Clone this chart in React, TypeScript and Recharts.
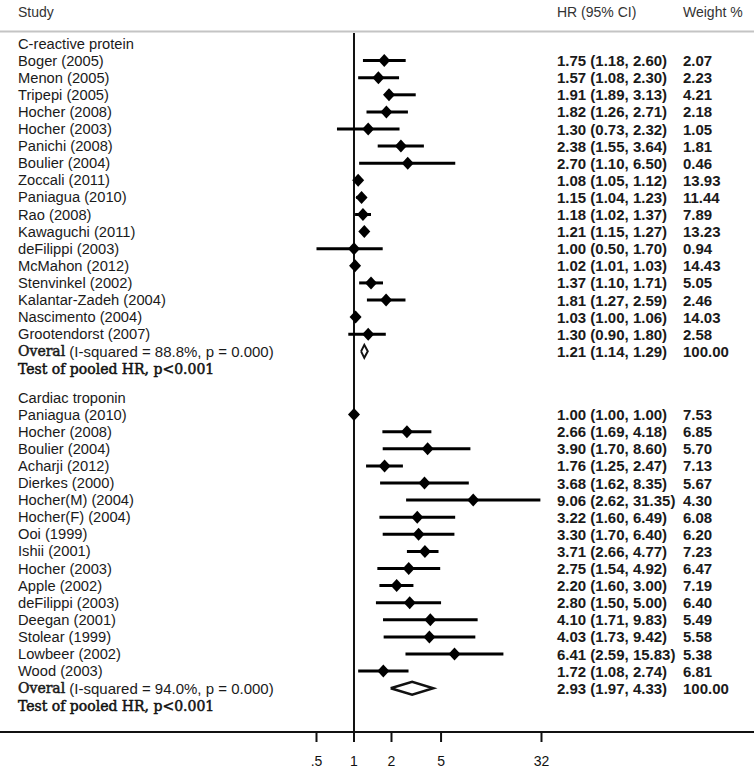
import { ScatterChart, Scatter, XAxis, YAxis, ErrorBar, ReferenceLine } from 'recharts';

document.body.style.margin = '0';

// C-reactive protein
const crpStudies = [
  'Boger (2005)', 'Menon (2005)', 'Tripepi (2005)', 'Hocher (2008)', 'Hocher (2003)',
  'Panichi (2008)', 'Boulier (2004)', 'Zoccali (2011)', 'Paniagua (2010)', 'Rao (2008)',
  'Kawaguchi (2011)', 'deFilippi (2003)', 'McMahon (2012)', 'Stenvinkel (2002)',
  'Kalantar-Zadeh (2004)', 'Nascimento (2004)', 'Grootendorst (2007)',
];
const crpHr = [1.75, 1.57, 1.91, 1.82, 1.3, 2.38, 2.7, 1.08, 1.15, 1.18, 1.21, 1.0, 1.02, 1.37, 1.81, 1.03, 1.3];
const crpLow = [1.18, 1.08, 1.89, 1.26, 0.73, 1.55, 1.1, 1.05, 1.04, 1.02, 1.15, 0.5, 1.01, 1.1, 1.27, 1.0, 0.9];
const crpHigh = [2.6, 2.3, 3.13, 2.71, 2.32, 3.64, 6.5, 1.12, 1.23, 1.37, 1.27, 1.7, 1.03, 1.71, 2.59, 1.06, 1.8];
const crpWeight = [2.07, 2.23, 4.21, 2.18, 1.05, 1.81, 0.46, 13.93, 11.44, 7.89, 13.23, 0.94, 14.43, 5.05, 2.46, 14.03, 2.58];
const crpPooled = [1.21, 1.14, 1.29];
const crpStat = '(I-squared = 88.8%, p = 0.000)';

// Cardiac troponin
const ctnStudies = [
  'Paniagua (2010)', 'Hocher (2008)', 'Boulier (2004)', 'Acharji (2012)', 'Dierkes (2000)',
  'Hocher(M) (2004)', 'Hocher(F) (2004)', 'Ooi (1999)', 'Ishii (2001)', 'Hocher (2003)',
  'Apple (2002)', 'deFilippi (2003)', 'Deegan (2001)', 'Stolear (1999)', 'Lowbeer (2002)', 'Wood (2003)',
];
const ctnHr = [1.0, 2.66, 3.9, 1.76, 3.68, 9.06, 3.22, 3.3, 3.71, 2.75, 2.2, 2.8, 4.1, 4.03, 6.41, 1.72];
const ctnLow = [1.0, 1.69, 1.7, 1.25, 1.62, 2.62, 1.6, 1.7, 2.66, 1.54, 1.6, 1.5, 1.71, 1.73, 2.59, 1.08];
const ctnHigh = [1.0, 4.18, 8.6, 2.47, 8.35, 31.35, 6.49, 6.4, 4.77, 4.92, 3.0, 5.0, 9.83, 9.42, 15.83, 2.74];
const ctnWeight = [7.53, 6.85, 5.7, 7.13, 5.67, 4.3, 6.08, 6.2, 7.23, 6.47, 7.19, 6.4, 5.49, 5.58, 5.38, 6.81];
const ctnPooled = [2.93, 1.97, 4.33];
const ctnStat = '(I-squared = 94.0%, p = 0.000)';

const xTicks = [0.5, 1, 2, 5, 32];

const f2 = (v: number) => v.toFixed(2);
const ciText = (h: number, l: number, u: number) => `${f2(h)} (${f2(l)}, ${f2(u)})`;

type Row = { x: number; y: number; kind: string; label: string; ci?: string; weight?: string; stat?: string };

const rows: Row[] = [];
const points: { x: number; y: number; err: number[] }[] = [];

function addGroup(start: number, title: string, names: string[], hr: number[], lo: number[], hi: number[], w: number[], pooled: number[], stat: string, testGap: number) {
  rows.push({ x: 1, y: start, kind: 'group', label: title });
  names.forEach((n, i) => {
    const y = start + 1 + i;
    rows.push({ x: 1, y, kind: 'study', label: n, ci: ciText(hr[i], lo[i], hi[i]), weight: f2(w[i]) });
    points.push({ x: hr[i], y, err: [hr[i] - lo[i], hi[i] - hr[i]] });
  });
  const oy = start + names.length + 1;
  rows.push({ x: 1, y: oy, kind: 'overall', label: 'Overal', stat, ci: ciText(pooled[0], pooled[1], pooled[2]), weight: '100.00' });
  rows.push({ x: 1, y: oy + testGap, kind: 'test', label: 'Test of pooled HR, p<0.001' });
  // pooled estimate drawn as a hollow diamond from lower to upper CI
  const h = 0.38;
  return [
    { x: pooled[1], y: oy },
    { x: pooled[0], y: oy - h },
    { x: pooled[2], y: oy },
    { x: pooled[0], y: oy + h },
    { x: pooled[1], y: oy },
  ];
}

rows.push({ x: 1, y: -1.84, kind: 'header', label: 'Study', ci: 'HR (95% CI)', weight: 'Weight %' });
const crpDiamond = addGroup(0, 'C-reactive protein', crpStudies, crpHr, crpLow, crpHigh, crpWeight, crpPooled, crpStat, 1.05);
const ctnDiamond = addGroup(20.7, 'Cardiac troponin', ctnStudies, ctnHr, ctnLow, ctnHigh, ctnWeight, ctnPooled, ctnStat, 1.05);

const Y_MIN = -2.544;
const Y_MAX = 40.26;
const X_MIN = Math.pow(2, -9.44);
const X_MAX = Math.pow(2, 10.667);

const SANS = '"Liberation Sans", Arial, sans-serif';
const SERIF = '"DejaVu Serif", serif';

function RowText(props: any) {
  const { cy, payload } = props;
  const row: Row = payload;
  const y = cy;
  const header = row.kind === 'header';
  return (
    <g>
      {row.kind === 'overall' ? (
        <text x={18} y={y} dominantBaseline="central" fontSize={15} fill="#1a1a1a">
          <tspan fontFamily={SERIF} fontSize={14} stroke="#1a1a1a" strokeWidth={0.5}>{row.label}</tspan>
          <tspan fontFamily={SANS}>{' ' + row.stat}</tspan>
        </text>
      ) : row.kind === 'test' ? (
        <text x={18} y={y} dominantBaseline="central" fontSize={14} fontFamily={SERIF} fill="#111" stroke="#111" strokeWidth={0.5}>
          {row.label}
        </text>
      ) : (
        <text x={18} y={y} dominantBaseline="central" fontSize={header ? 14 : 14.7} fontFamily={SANS} fill={header ? '#333' : '#1a1a1a'}>
          {row.label}
        </text>
      )}
      {row.ci && (
        <text x={557} y={y} dominantBaseline="central" fontSize={header ? 14 : 15} fontFamily={SANS}
          fontWeight={header ? 'normal' : 'bold'} fill={header ? '#333' : '#1a1a1a'}>
          {row.ci}
        </text>
      )}
      {row.weight && (
        <text x={683} y={y} dominantBaseline="central" fontSize={header ? 14 : 15} fontFamily={SANS}
          fontWeight={header ? 'normal' : 'bold'} fill={header ? '#333' : '#1a1a1a'}>
          {row.weight}
        </text>
      )}
    </g>
  );
}

const Diamond = (p: any) => {
  const { cx, cy } = p;
  return <polygon points={`${cx - 6},${cy} ${cx},${cy - 6.5} ${cx + 6},${cy} ${cx},${cy + 6.5}`} fill="#000" />;
};

const Nothing = () => <g />;

export default function App() {
  return (
    <ScatterChart width={754} height={768} margin={{ top: 0, right: 0, bottom: 0, left: 0 }}>
      <XAxis
        dataKey="x"
        type="number"
        scale="log"
        domain={[X_MIN, X_MAX]}
        allowDataOverflow
        ticks={xTicks}
        interval={0}
        height={36}
        tickSize={10}
        tickMargin={14}
        tickFormatter={(v: number) => (v === 0.5 ? '.5' : String(v))}
        axisLine={{ stroke: '#111', strokeWidth: 2 }}
        tickLine={{ stroke: '#111', strokeWidth: 2 }}
        tick={{ fontSize: 14, fill: '#111', fontFamily: SANS }}
      />
      <YAxis dataKey="y" type="number" domain={[Y_MIN, Y_MAX]} allowDataOverflow reversed hide />
      <ReferenceLine y={-0.7} stroke="#c4c4c4" strokeWidth={2} />
      <ReferenceLine segment={[{ x: 1, y: -0.62 }, { x: 1, y: Y_MAX }]} stroke="#111" strokeWidth={2} />
      <Scatter data={points} shape={Diamond} isAnimationActive={false}>
        <ErrorBar dataKey="err" direction="x" width={0} stroke="#000" strokeWidth={3} />
      </Scatter>
      <Scatter data={crpDiamond} shape={Nothing} line={{ stroke: '#111', strokeWidth: 2 }} isAnimationActive={false} />
      <Scatter data={ctnDiamond} shape={Nothing} line={{ stroke: '#111', strokeWidth: 2.5 }} isAnimationActive={false} />
      <Scatter data={rows} shape={RowText} isAnimationActive={false} />
    </ScatterChart>
  );
}
